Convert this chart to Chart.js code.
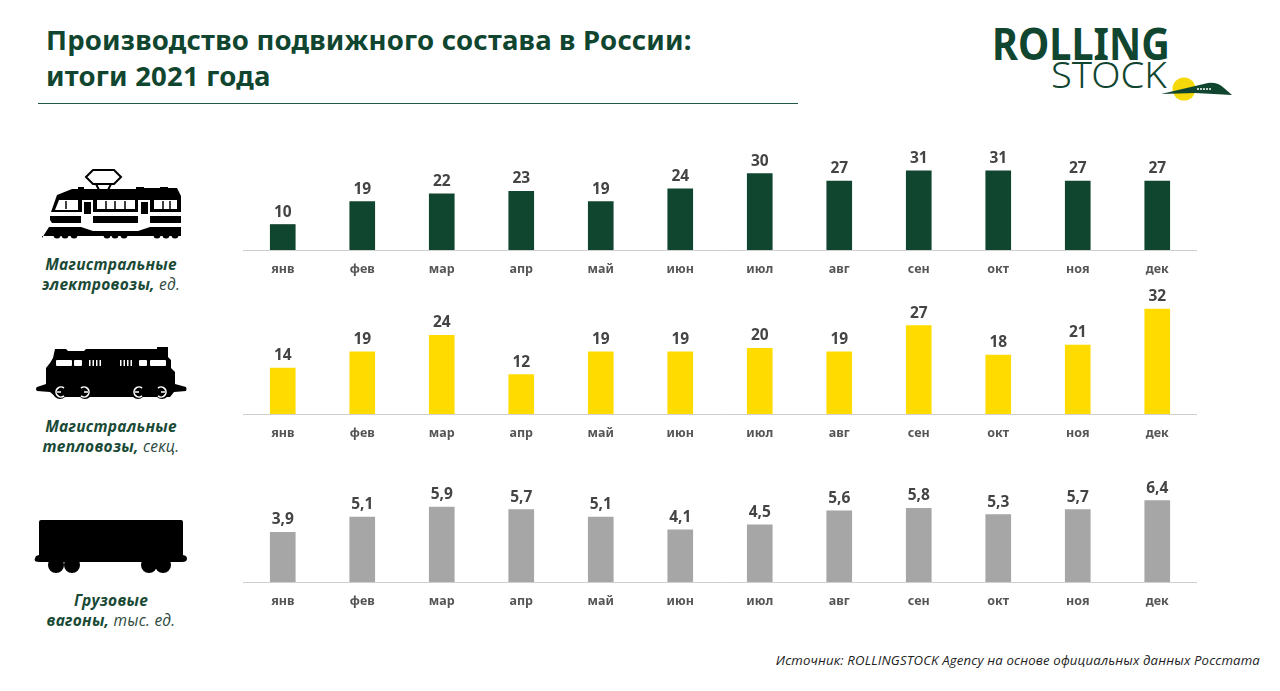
<!DOCTYPE html>
<html lang="ru"><head><meta charset="utf-8">
<script src="https://cdn.jsdelivr.net/npm/chart.js@4"></script>
<style>
html,body{margin:0;padding:0;background:#fff;width:1280px;height:691px;overflow:hidden}
body{position:relative;font-family:"Open Sans",sans-serif}
.t{position:absolute;white-space:nowrap}
canvas{position:absolute;left:243px}
#title{left:46px;top:22px;font:700 27.5px/36px "Noto Sans",sans-serif;color:#10452f;letter-spacing:.2px}
#rule{position:absolute;left:38px;top:103px;width:760px;height:1px;background:#1d5a40}
.lab{width:222px;left:0;text-align:center;font:italic 700 15.5px/20px "Open Sans",sans-serif;letter-spacing:.25px;color:#1a4a36}
.lab span{font-weight:400;color:#2e4a3e}
#src{right:20px;top:652px;font:italic 400 13.2px/16px "Open Sans",sans-serif;letter-spacing:.16px;color:#222}
#l1{left:992px;top:20px;font:700 45px/45px "Noto Sans",sans-serif;color:#10452f;transform-origin:left top;transform:scaleX(.88)}
#l2{left:1051px;top:54px;font:300 37px/40px "Noto Sans",sans-serif;color:#10452f;transform-origin:left top;transform:scaleX(1.03)}
#art{position:absolute;left:0;top:0}
</style></head><body>
<div class="t" id="title">Производство подвижного состава в России:<br>итоги 2021 года</div>
<div id="rule"></div>
<div class="t" id="l1">ROLLING</div><div class="t" id="l2">STOCK</div>
<svg id="art" width="1280" height="691" viewBox="0 0 1280 691">
 <!-- logo -->
 <circle cx="1184" cy="89" r="11.5" fill="#f5d90a"/>
 <path d="M1161 94 L1208 83 Q1218 82 1224 88 L1232 95 L1195 93 Z" fill="#10452f"/>
 <path d="M1197 89 h14" stroke="#fff" stroke-width="1.5" stroke-dasharray="2 1"/>
 <!-- electric -->
 <g fill="#000">
  <path d="M86 177 L93 170 H114 L121 177 L114 184 H93 Z" fill="none" stroke="#000" stroke-width="2"/>
  <path d="M96 184 L99 190 M111 184 L108 190" stroke="#000" stroke-width="2"/>
  <path d="M51 212 L57 195 L72 189 H78 V187 H84 V189 H136 V187 H144 V188 H160 V187 H168 V188 H177 L181 196 V212 Z"/>
  <path d="M50 216 H81 V223 H52 L50 220Z M93 216 H138 V223 H93Z M150 216 H181 V223 H150Z"/>
  <path d="M42 238 L49 227 H81 L93 231 H138 L150 227 H181 V236 H42Z"/>
  <circle cx="57" cy="235" r="3.5"/><circle cx="65" cy="235" r="3.5"/><circle cx="74" cy="235" r="3.5"/>
  <circle cx="107" cy="235" r="3.5"/><circle cx="115" cy="235" r="3.5"/><circle cx="124" cy="235" r="3.5"/>
  <circle cx="157" cy="235" r="3.5"/><circle cx="166" cy="235" r="3.5"/><circle cx="175" cy="235" r="3.5"/>
 </g>
 <g fill="#fff">
  <path d="M55 210 L59 200 H78 V210Z"/>
  <rect x="97" y="200" width="38" height="9"/><rect x="154" y="200" width="23" height="9"/>
  <rect x="82" y="200" width="11" height="16"/><rect x="138" y="200" width="12" height="16"/>
  <rect x="84" y="202" width="7" height="12" fill="#000"/><rect x="141" y="202" width="7" height="12" fill="#000"/>
 </g>
 <g stroke="#000" stroke-width="1.5"><path d="M66 201V209M106 201V209M115 201V209M125 201V209M163 201V209M170 201V209"/></g>
 <!-- diesel -->
 <g fill="#000">
  <path d="M55 349 H66 L68 351 H84 L86 349 H157 V347 H168 V357 L171 360 V368 L175 372 V384 L186 387 Q187 389 186 391 L174 392 L170 397 H56 L50 392 L37 391 Q35 389 37 387 L46 384 V368 L50 363 L53 358Z"/>
  <circle cx="60" cy="392" r="7"/><circle cx="85" cy="392" r="7"/><circle cx="138" cy="392" r="7"/><circle cx="162" cy="392" r="7"/>
 </g>
 <g fill="#fff">
  <rect x="56" y="360" width="16" height="6" rx="1"/><rect x="74" y="360" width="8" height="6" rx="1"/>
  <rect x="139" y="360" width="8" height="6" rx="1"/><rect x="150" y="360" width="16" height="6" rx="1"/>
  <path d="M89 360h1.500v6h-1.500zM92.500 360h1.500v6h-1.500zM96 360h1.500v6h-1.500zM99.500 360h1.500v6h-1.500zM120 360h1.500v6h-1.500zM123.500 360h1.500v6h-1.500zM127 360h1.500v6h-1.500zM130.500 360h1.500v6h-1.500z"/>
 </g>
 <g fill="none" stroke="#fff" stroke-width="1.6">
  <path d="M64 388 A5 5 0 1 0 64 396 M57 392 H61"/><path d="M81 388 A5 5 0 1 1 81 396 M88 392 H84"/>
  <path d="M142 388 A5 5 0 1 0 142 396 M135 392 H139"/><path d="M158 388 A5 5 0 1 1 158 396 M165 392 H161"/>
 </g>
 <!-- wagon -->
 <g fill="#000">
  <path d="M41 520 H181 Q183 520 183 522 V555 L186 556 Q188 559 186 561 Q185 562 182 562 H40 Q36 562 35 561 Q34 559 36 556 L39 555 V522 Q39 520 41 520Z"/>
  <circle cx="56" cy="565" r="8"/><circle cx="72" cy="565" r="8"/><circle cx="149" cy="565" r="8"/><circle cx="163" cy="565" r="8"/>
 </g>
</svg>
<div class="t lab" style="top:254px">Магистральные<br>электровозы, <span>ед.</span></div>
<div class="t lab" style="top:416px">Магистральные<br>тепловозы, <span>секц.</span></div>
<div class="t lab" style="top:590px">Грузовые<br>вагоны, <span>тыс. ед.</span></div>
<div class="t" id="src">Источник: ROLLINGSTOCK Agency на основе официальных данных Росстата</div>
<canvas id="c1"></canvas><canvas id="c2"></canvas><canvas id="c3"></canvas>
<script>
const months = ["янв","фев","мар","апр","май","июн","июл","авг","сен","окт","ноя","дек"];
const electric = [10,19,22,23,19,24,30,27,31,31,27,27];
const diesel = [14,19,24,12,19,19,20,19,27,18,21,32];
const wagons = [3.9,5.1,5.9,5.7,5.1,4.1,4.5,5.6,5.8,5.3,5.7,6.4];
const FONT = '"Noto Sans",sans-serif';
const valueLabels = {
  id:'valueLabels',
  afterDatasetsDraw(chart){
    const ctx = chart.ctx, meta = chart.getDatasetMeta(0), data = chart.data.datasets[0].data;
    ctx.save();
    ctx.font = '700 15.5px '+FONT; ctx.fillStyle = '#444'; ctx.textAlign='center'; ctx.textBaseline='alphabetic';
    meta.data.forEach((b,i)=>ctx.fillText(String(data[i]).replace('.',','), b.x, b.y-8));
    ctx.restore();
  }
};
function make(id, values, color, yMax, baseline, pxPerUnit){
  const plotH = yMax*pxPerUnit, padTop = 24, axisH = 32;
  const cv = document.getElementById(id);
  cv.width = 954; cv.height = Math.round(plotH+padTop+axisH);
  cv.style.top = (baseline - plotH - padTop) + 'px';
  cv.style.width='954px'; cv.style.height=cv.height+'px';
  new Chart(cv,{
    type:'bar',
    data:{labels:months,datasets:[{data:values,backgroundColor:color,barThickness:25}]},
    plugins:[valueLabels],
    options:{
      responsive:false,animation:false,devicePixelRatio:1,
      layout:{padding:{top:padTop,left:0,right:0,bottom:0}},
      plugins:{legend:{display:false},tooltip:{enabled:false}},
      scales:{
        x:{afterFit:s=>{s.height=axisH;},grid:{display:false},border:{display:true,color:'#cfcfcf',width:1},
           ticks:{color:'#555',padding:4,maxRotation:0,font:{family:FONT,size:12.5,weight:'700'}}},
        y:{display:false,min:0,max:yMax}
      }
    }
  });
}
make('c1',electric,'#10452f',40,250,2.55);
make('c2',diesel,'#ffdb00',36,414,3.29);
make('c3',wagons,'#a6a6a6',7,582,12.7);
</script>
</body></html>
